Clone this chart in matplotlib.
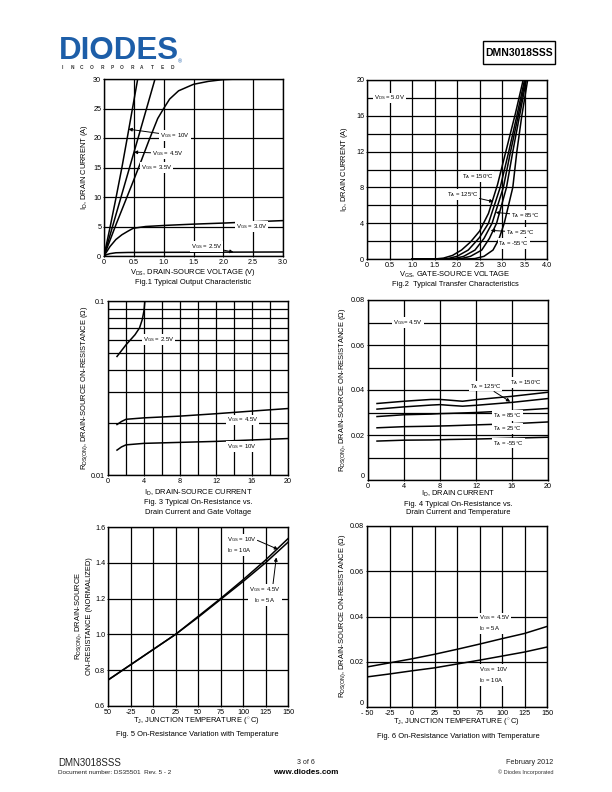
import matplotlib
matplotlib.use("Agg")
import matplotlib.pyplot as plt
from matplotlib.patches import Rectangle
from matplotlib.ticker import FixedLocator, NullFormatter, MultipleLocator

plt.rcParams['font.family'] = ['Liberation Sans', 'DejaVu Sans']
plt.rcParams['mathtext.fontset'] = 'custom'
plt.rcParams['mathtext.rm'] = 'Liberation Sans'
plt.rcParams['mathtext.it'] = 'Liberation Sans:italic'

# ---- Fig.1 output characteristic (VDS, ID) ----
f1_vgs10_v = [0, 0.1, 0.2, 0.3, 0.4, 0.5, 0.565]
f1_vgs10_i = [0, 4.8, 9.8, 15.0, 20.6, 26.3, 30]
f1_vgs45_v = [0, 0.2, 0.4, 0.6, 0.855]
f1_vgs45_i = [0, 7.0, 14.0, 21.0, 30]
f1_vgs35_v = [0, 0.2, 0.46, 0.6, 0.75, 0.9, 1.0, 1.1, 1.25, 1.5, 1.75, 2.0, 2.25]
f1_vgs35_i = [0, 5.3, 11.9, 15.5, 19.5, 23.3, 25.0, 26.6, 28.0, 29.1, 29.6, 29.9, 30.0]
f1_vgs30_v = [0, 0.1, 0.2, 0.3, 0.4, 0.49, 0.7, 1.05, 1.5, 2.05, 2.5, 3.0]
f1_vgs30_i = [0, 1.6, 2.8, 3.6, 4.2, 4.7, 5.0, 5.2, 5.4, 5.6, 5.8, 6.0]
f1_vgs25_v = [0, 0.05, 0.1, 0.2, 0.4, 1.0, 2.0, 3.0]
f1_vgs25_i = [0, 0.25, 0.4, 0.55, 0.6, 0.62, 0.65, 0.68]

# ---- Fig.2 transfer characteristic (VGS, ID) ----
f2_t150_v = [1.0, 1.5, 1.7, 1.9, 2.1, 2.3, 2.5, 2.7, 2.9, 3.1, 3.3, 3.47]
f2_t150_i = [0, 0, 0.1, 0.4, 1.0, 1.9, 3.1, 5.1, 8.3, 12.3, 16.3, 20]
f2_t125_v = [1.0, 1.6, 1.8, 2.0, 2.25, 2.5, 2.7, 2.96, 3.15, 3.33, 3.5]
f2_t125_i = [0, 0, 0.05, 0.3, 1.0, 2.4, 4.0, 8.0, 12, 16, 20]
f2_t85_v = [1.0, 1.75, 1.95, 2.15, 2.4, 2.6, 2.78, 3.03, 3.19, 3.36, 3.52]
f2_t85_i = [0, 0, 0.05, 0.3, 1.0, 2.3, 4.0, 8.0, 12, 16, 20]
f2_t25_v = [1.0, 1.9, 2.1, 2.3, 2.55, 2.72, 2.88, 3.10, 3.24, 3.39, 3.54]
f2_t25_i = [0, 0, 0.05, 0.3, 1.0, 2.3, 4.0, 8.0, 12, 16, 20]
f2_tm55_v = [1.0, 2.2, 2.4, 2.6, 2.8, 2.93, 3.05, 3.24, 3.33, 3.44, 3.57]
f2_tm55_i = [0, 0, 0.05, 0.3, 1.0, 2.2, 4.0, 8.0, 12, 16, 20]

# ---- Fig.3 RDS(on) vs ID and VGS ----
f3_vgs25_id = [1, 2, 3, 3.5, 3.8, 4.0, 4.1]
f3_vgs25_r = [0.048, 0.056, 0.064, 0.070, 0.078, 0.088, 0.1]
f3_vgs45_id = [1, 1.5, 2, 4, 8, 12, 16, 20]
f3_vgs45_r = [0.0195, 0.0203, 0.0209, 0.0213, 0.0218, 0.0225, 0.0233, 0.0241]
f3_vgs10_id = [1, 1.5, 2, 4, 8, 12, 16, 20]
f3_vgs10_r = [0.0139, 0.0145, 0.0149, 0.0152, 0.0154, 0.0156, 0.0159, 0.0162]

# ---- Fig.4 RDS(on) vs ID and temperature ----
f4_id = [1, 4, 7, 8, 9, 10.5, 12, 16, 20]
f4_t150 = [0.0340, 0.0350, 0.0358, 0.0358, 0.0355, 0.0350, 0.0357, 0.0372, 0.0390]
f4_t125 = [0.0315, 0.0325, 0.0333, 0.0335, 0.0332, 0.0328, 0.0332, 0.0345, 0.0362]
f4_t85 = [0.0282, 0.0290, 0.0293, 0.0295, 0.0296, 0.0298, 0.0300, 0.0308, 0.0318]
f4_t25 = [0.0232, 0.0237, 0.0239, 0.0240, 0.0241, 0.0243, 0.0245, 0.0250, 0.0258]
f4_tm55 = [0.0173, 0.0177, 0.0178, 0.0179, 0.0180, 0.0181, 0.0182, 0.0186, 0.0190]

# ---- Fig.5 normalized RDS(on) vs TJ ----
f5_tj = [-50, -25, 0, 25, 50, 75, 100, 125, 150]
f5_vgs10 = [0.745, 0.83, 0.915, 1.0, 1.1, 1.2, 1.305, 1.415, 1.535]
f5_vgs45 = [0.745, 0.83, 0.915, 1.0, 1.095, 1.195, 1.295, 1.40, 1.515]

# ---- Fig.6 RDS(on) vs TJ ----
f6_tj = [-50, -25, 0, 25, 50, 75, 100, 125, 150]
f6_vgs45 = [0.0177, 0.0195, 0.0213, 0.0233, 0.0255, 0.0278, 0.0302, 0.0325, 0.0356]
f6_vgs10 = [0.0133, 0.0146, 0.0160, 0.0173, 0.0190, 0.0207, 0.0225, 0.0243, 0.0265]

W, H = 612, 792
fig = plt.figure(figsize=(W / 100, H / 100), dpi=100)

def box(l, t, r, b):
    return [l / W, 1 - b / H, (r - l) / W, (b - t) / H]

def ftext(x, y, s, **kw):
    fig.text(x / W, 1 - y / H, s, **kw)

TK = 5.2
LB = 5.4
AN = 4.3
LW = 1.1
WB = dict(facecolor='white', edgecolor='none', pad=0.6)
ARR = dict(arrowstyle='-|>', color='black', lw=0.7, mutation_scale=5, shrinkA=0, shrinkB=0)

def style(ax):
    ax.grid(True, which='both', color='black', lw=0.9)
    ax.set_axisbelow(True)
    for s in ax.spines.values():
        s.set_linewidth(1.0)
    ax.tick_params(which='both', labelsize=TK, length=1, width=0.6, pad=1)
    ax.tick_params(which='minor', length=0)

# ---- header ----
ftext(59, 66, "DIODES", fontsize=22.5, fontweight='bold', color='#1d5ea8', va='bottom')
fig.add_artist(plt.Line2D([78 / W, 165 / W], [1 - 51.5 / H, 1 - 51.5 / H], color='white', lw=1.0))
for k, ch in enumerate("INCORPORATED"):
    ftext(62 + k * 10.0, 67.8, ch, fontsize=3.4, fontweight='bold', color='#333333',
          ha='center', va='center')
ftext(178, 62, "®", fontsize=4, color='#1d5ea8', va='center')
fig.add_artist(Rectangle((483 / W, 1 - 64 / H), 72 / W, 23 / H, fill=False, lw=1.0,
                         edgecolor='black', transform=fig.transFigure))
ftext(519, 53, "DMN3018SSS", fontsize=7.5, fontweight='bold', ha='center', va='center')

# ---- Fig.1 ----
ax = fig.add_axes(box(104, 79, 283, 256))
for v, i in [(f1_vgs10_v, f1_vgs10_i), (f1_vgs45_v, f1_vgs45_i), (f1_vgs35_v, f1_vgs35_i),
             (f1_vgs30_v, f1_vgs30_i), (f1_vgs25_v, f1_vgs25_i)]:
    ax.plot(v, i, color='black', lw=LW, solid_capstyle='butt')
ax.set_xlim(0, 3)
ax.set_ylim(0, 30)
ax.set_xticks([0, 0.5, 1, 1.5, 2, 2.5, 3])
ax.set_xticklabels(["0", "0.5", "1.0", "1.5", "2.0", "2.5", "3.0"])
ax.set_yticks([0, 5, 10, 15, 20, 25, 30])
style(ax)
ax.annotate(r"V$_\mathrm{GS}$ = 10V", xy=(0.41, 21.5), xytext=(0.94, 20.4), fontsize=AN,
            va='center', ha='left', arrowprops=ARR, bbox=WB)
ax.annotate(r"V$_\mathrm{GS}$ = 4.5V", xy=(0.5, 17.6), xytext=(0.8, 17.4), fontsize=AN,
            va='center', ha='left', arrowprops=ARR, bbox=WB)
ax.text(0.62, 15, r"V$_\mathrm{GS}$ = 3.5V", fontsize=AN, va='center', ha='left', bbox=WB)
ax.text(2.21, 5, r"V$_\mathrm{GS}$ = 3.0V", fontsize=AN, va='center', ha='left', bbox=WB)
ax.annotate(r"V$_\mathrm{GS}$ = 2.5V", xy=(2.17, 0.65), xytext=(1.45, 1.6), fontsize=AN,
            va='center', ha='left', arrowprops=ARR, bbox=WB)
ftext(193, 272.5, r"V$_\mathrm{DS}$, DRAIN-SOURCE VOLTAGE (V)", fontsize=LB, ha='center', va='center')
ftext(193, 282, "Fig.1 Typical Output Characteristic", fontsize=LB, ha='center', va='center')
ftext(85, 167, r"I$_\mathrm{D}$, DRAIN CURRENT (A)", fontsize=LB, ha='center', va='center', rotation=90)

# ---- Fig.2 ----
ax = fig.add_axes(box(367, 80, 547, 259))
for v, i in [(f2_t150_v, f2_t150_i), (f2_t125_v, f2_t125_i), (f2_t85_v, f2_t85_i),
             (f2_t25_v, f2_t25_i), (f2_tm55_v, f2_tm55_i)]:
    ax.plot(v, i, color='black', lw=LW)
ax.set_xlim(0, 4)
ax.set_ylim(0, 20)
ax.set_xticks([0, 0.5, 1, 1.5, 2, 2.5, 3, 3.5, 4])
ax.set_xticklabels(["0", "0.5", "1.0", "1.5", "2.0", "2.5", "3.0", "3.5", "4.0"])
ax.set_yticks([0, 4, 8, 12, 16, 20])
ax.yaxis.set_minor_locator(MultipleLocator(2))
style(ax)
ax.text(0.15, 18, r"V$_\mathrm{DS}$ = 5.0V", fontsize=AN, va='center', ha='left', bbox=WB)
ax.text(2.1, 9.2, r"T$_\mathrm{A}$ = 150°C", fontsize=AN, va='center', ha='left', bbox=WB)
ax.annotate(r"T$_\mathrm{A}$ = 125°C", xy=(2.81, 6.4), xytext=(1.77, 7.2), fontsize=AN,
            va='center', ha='left', arrowprops=ARR, bbox=WB)
ax.annotate(r"T$_\mathrm{A}$ = 85°C", xy=(2.86, 5.2), xytext=(3.2, 4.9), fontsize=AN,
            va='center', ha='left', arrowprops=ARR, bbox=WB)
ax.annotate(r"T$_\mathrm{A}$ = 25°C", xy=(2.75, 3.2), xytext=(3.08, 3.0), fontsize=AN,
            va='center', ha='left', arrowprops=ARR, bbox=WB)
ax.text(2.92, 1.7, r"T$_\mathrm{A}$ = -55°C", fontsize=AN, va='center', ha='left', bbox=WB)
ftext(455, 274.5, r"V$_\mathrm{GS}$, GATE-SOURCE VOLTAGE", fontsize=LB, ha='center', va='center')
ftext(455, 285, "Fig.2  Typical Transfer Characteristics", fontsize=LB, ha='center', va='center')
ftext(344, 169, r"I$_\mathrm{D}$, DRAIN CURRENT (A)", fontsize=LB, ha='center', va='center', rotation=90)

# ---- Fig.3 ----
ax = fig.add_axes(box(108, 301, 288, 475))
for x, r in [(f3_vgs25_id, f3_vgs25_r), (f3_vgs45_id, f3_vgs45_r), (f3_vgs10_id, f3_vgs10_r)]:
    ax.plot(x, r, color='black', lw=LW)
ax.set_yscale('log')
ax.set_xlim(0, 20)
ax.set_ylim(0.01, 0.1)
ax.set_xticks([0, 4, 8, 12, 16, 20])
ax.xaxis.set_minor_locator(MultipleLocator(2))
ax.yaxis.set_major_locator(FixedLocator([0.01, 0.1]))
ax.set_yticklabels(["0.01", "0.1"])
ax.yaxis.set_minor_locator(FixedLocator([0.02, 0.03, 0.04, 0.05, 0.06, 0.07, 0.08, 0.09]))
ax.yaxis.set_minor_formatter(NullFormatter())
style(ax)
ax.text(3.9, 0.06, r"V$_\mathrm{GS}$ = 2.5V", fontsize=AN, va='center', ha='left', bbox=WB)
ax.text(13.2, 0.0207, r"V$_\mathrm{GS}$ = 4.5V", fontsize=AN, va='center', ha='left', bbox=WB)
ax.text(13.2, 0.01455, r"V$_\mathrm{GS}$ = 10V", fontsize=AN, va='center', ha='left', bbox=WB)
ftext(198, 492.5, r"I$_\mathrm{D}$, DRAIN-SOURCE CURRENT", fontsize=LB, ha='center', va='center')
ftext(198, 503, "Fig. 3 Typical On-Resistance vs.", fontsize=LB, ha='center', va='center')
ftext(198, 512, "Drain Current and Gate Voltage", fontsize=LB, ha='center', va='center')
ftext(85, 388, r"R$_\mathrm{DS(ON)}$, DRAIN-SOURCE ON-RESISTANCE ($\Omega$)", fontsize=LB,
      ha='center', va='center', rotation=90)

# ---- Fig.4 ----
ax = fig.add_axes(box(368, 300, 548, 480))
for r in [f4_t150, f4_t125, f4_t85, f4_t25, f4_tm55]:
    ax.plot(f4_id, r, color='black', lw=LW)
ax.set_xlim(0, 20)
ax.set_ylim(0, 0.08)
ax.set_xticks([0, 4, 8, 12, 16, 20])
ax.set_yticks([0, 0.02, 0.04, 0.06, 0.08])
ax.set_yticklabels(["0", "0.02", "0.04", "0.06", "0.08"])
ax.yaxis.set_minor_locator(MultipleLocator(0.01))
style(ax)
ax.get_yticklabels()[0].set_va('bottom')
ax.text(2.8, 0.07, r"V$_\mathrm{GS}$= 4.5V", fontsize=AN, va='center', ha='left', bbox=WB)
ax.text(15.8, 0.0434, r"T$_\mathrm{A}$ = 150°C", fontsize=AN, va='center', ha='left', bbox=WB)
ax.annotate(r"T$_\mathrm{A}$ = 125°C", xy=(15.8, 0.0348), xytext=(11.3, 0.0417), fontsize=AN,
            va='center', ha='left', arrowprops=ARR, bbox=WB)
ax.text(13.9, 0.0287, r"T$_\mathrm{A}$ = 85°C", fontsize=AN, va='center', ha='left', bbox=WB)
ax.text(13.9, 0.0228, r"T$_\mathrm{A}$ = 25°C", fontsize=AN, va='center', ha='left', bbox=WB)
ax.text(13.9, 0.0164, r"T$_\mathrm{A}$ = -55°C", fontsize=AN, va='center', ha='left', bbox=WB)
ftext(458, 494, r"I$_\mathrm{D}$, DRAIN CURRENT", fontsize=LB, ha='center', va='center')
ftext(458, 504, "Fig. 4 Typical On-Resistance vs.", fontsize=LB, ha='center', va='center')
ftext(458, 513, "Drain Current and Temperature", fontsize=LB, ha='center', va='center')
ftext(343, 390, r"R$_\mathrm{DS(ON)}$, DRAIN-SOURCE ON-RESISTANCE ($\Omega$)", fontsize=LB,
      ha='center', va='center', rotation=90)

# ---- Fig.5 ----
ax = fig.add_axes(box(108, 527, 288, 706))
ax.plot(f5_tj, f5_vgs10, color='black', lw=LW)
ax.plot(f5_tj, f5_vgs45, color='black', lw=LW)
ax.set_xlim(-50, 150)
ax.set_ylim(0.6, 1.6)
ax.set_xticks([-50, -25, 0, 25, 50, 75, 100, 125, 150])
ax.set_xticklabels(["50", "-25", "0", "25", "50", "75", "100", "125", "150"])
ax.set_yticks([0.6, 0.8, 1.0, 1.2, 1.4, 1.6])
ax.set_yticklabels(["0.6", "0.8", "1.0", "1.2", "1.4", "1.6"])
style(ax)
ax.annotate(r"V$_\mathrm{GS}$ = 10V" + "\n" + r"I$_\mathrm{D}$ = 10A", xy=(139, 1.475),
            xytext=(82, 1.50), fontsize=AN, va='center', ha='left', linespacing=1.3,
            arrowprops=dict(ARR, relpos=(1, 0.75)), bbox=WB)
ax.annotate(r"V$_\mathrm{GS}$ = 4.5V" + "\n" + r"I$_\mathrm{D}$ = 5A", xy=(137, 1.43),
            xytext=(107, 1.22), fontsize=AN, va='center', ha='left', linespacing=1.3,
            multialignment='center', arrowprops=dict(ARR, relpos=(0.75, 1)), bbox=WB)
ftext(197, 721.5, r"T$_\mathrm{J}$, JUNCTION TEMPERATURE ($^\circ$C)", fontsize=LB, ha='center', va='center')
ftext(197, 734.5, "Fig. 5 On-Resistance Variation with Temperature", fontsize=LB, ha='center', va='center')
ftext(83, 616, r"R$_\mathrm{DS(ON)}$, DRAIN-SOURCE" + "\n" + "ON-RESISTANCE (NORMALIZED)",
      fontsize=LB, ha='center', va='center', rotation=90, linespacing=1.5)

# ---- Fig.6 ----
ax = fig.add_axes(box(367, 526, 547, 707))
ax.plot(f6_tj, f6_vgs45, color='black', lw=LW)
ax.plot(f6_tj, f6_vgs10, color='black', lw=LW)
ax.set_xlim(-50, 150)
ax.set_ylim(0, 0.08)
ax.set_xticks([-50, -25, 0, 25, 50, 75, 100, 125, 150])
ax.set_xticklabels(["- 50", "-25", "0", "25", "50", "75", "100", "125", "150"])
ax.set_yticks([0, 0.02, 0.04, 0.06, 0.08])
ax.set_yticklabels(["0", "0.02", "0.04", "0.06", "0.08"])
style(ax)
ax.get_yticklabels()[0].set_va('bottom')
ax.text(74, 0.037, r"V$_\mathrm{GS}$ = 4.5V" + "\n" + r"I$_\mathrm{D}$ = 5A", fontsize=AN,
        va='center', ha='left', linespacing=1.3, bbox=WB)
ax.text(74, 0.0141, r"V$_\mathrm{GS}$ = 10V" + "\n" + r"I$_\mathrm{D}$ = 10A", fontsize=AN,
        va='center', ha='left', linespacing=1.3, bbox=WB)
ftext(457, 722.5, r"T$_\mathrm{J}$, JUNCTION TEMPERATURE ($^\circ$C)", fontsize=LB, ha='center', va='center')
ftext(458, 736, "Fig. 6 On-Resistance Variation with Temperature", fontsize=LB, ha='center', va='center')
ftext(343, 616, r"R$_\mathrm{DS(ON)}$, DRAIN-SOURCE ON-RESISTANCE ($\Omega$)", fontsize=LB,
      ha='center', va='center', rotation=90)

# ---- footer ----
ftext(58, 763, "DMN3018SSS", fontsize=7, va='center', color='#222222')
ftext(58, 773, "Document number: DS35501  Rev. 5 - 2", fontsize=4.6, va='center', color='#222222')
ftext(306, 763, "3 of 6", fontsize=5, ha='center', va='center', color='#222222')
ftext(306, 773, "www.diodes.com", fontsize=5.8, fontweight='bold', ha='center', va='center')
ftext(553, 763, "February 2012", fontsize=5.2, ha='right', va='center', color='#222222')
ftext(553, 772.5, "© Diodes Incorporated", fontsize=4, ha='right', va='center', color='#333333')

fig.savefig("out.png", dpi=100)
